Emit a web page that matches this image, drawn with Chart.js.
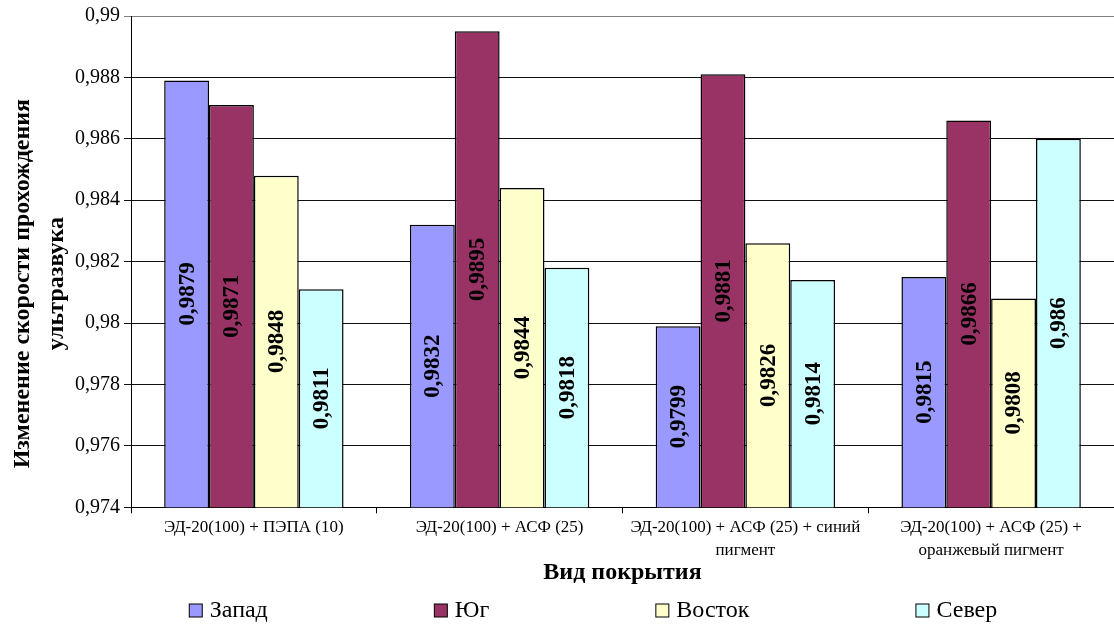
<!DOCTYPE html>
<html>
<head>
<meta charset="utf-8">
<script src="https://cdn.jsdelivr.net/npm/chart.js@4.4.1/dist/chart.umd.min.js"></script>
<style>
  html, body { margin: 0; padding: 0; background: #fff; }
  #wrap { width: 1114px; height: 626px; }
</style>
</head>
<body>
<div id="wrap"><canvas id="chart" width="1114" height="626"></canvas></div>
<script>
// Categories (coating types)
const categories = [
  'ЭД-20(100) + ПЭПА (10)',
  'ЭД-20(100) + АСФ (25)',
  ['ЭД-20(100) + АСФ (25) + синий', 'пигмент'],
  ['ЭД-20(100) + АСФ (25) +', 'оранжевый пигмент']
];

// Series values
const seriesNames = ['Запад', 'Юг', 'Восток', 'Север'];
const zapad  = [0.9879, 0.9832, 0.9799, 0.9815];
const yug    = [0.9871, 0.9895, 0.9881, 0.9866];
const vostok = [0.9848, 0.9844, 0.9826, 0.9808];
const sever  = [0.9811, 0.9818, 0.9814, 0.986];

// Value axis range
const yMin = 0.974;
const yMax = 0.99;
const yStep = 0.002;

const yTitleLines = ['Изменение скорости прохождения', 'ультразвука'];
const xTitle = 'Вид покрытия';

const colors = ['#9999FF', '#993366', '#FFFFCC', '#CCFFFF'];
const serif = '"Liberation Serif", "Times New Roman", serif';

const fmt = v => String(Math.round(v * 10000) / 10000).replace('.', ',');

// Values written vertically in the middle of the visible part of each bar
const barLabels = {
  id: 'barLabels',
  afterDatasetsDraw(chart) {
    const ctx = chart.ctx;
    const bottom = chart.scales.y.getPixelForValue(yMin);
    ctx.save();
    ctx.font = 'bold 23px ' + serif;
    ctx.fillStyle = '#000';
    ctx.textAlign = 'center';
    ctx.textBaseline = 'middle';
    chart.data.datasets.forEach((ds, i) => {
      const meta = chart.getDatasetMeta(i);
      meta.data.forEach((bar, j) => {
        const cy = (bar.y + bottom) / 2;
        ctx.save();
        ctx.translate(bar.x + 1, cy);
        ctx.rotate(-Math.PI / 2);
        ctx.fillText(fmt(ds.data[j]), 0, 0);
        ctx.restore();
      });
    });
    ctx.restore();
  }
};

// Two-line value axis title
const yTitle = {
  id: 'yTitle',
  afterDraw(chart) {
    const ctx = chart.ctx;
    const a = chart.chartArea;
    const cy = (a.top + a.bottom) / 2 + 22;
    ctx.save();
    ctx.font = 'bold 24px ' + serif;
    ctx.fillStyle = '#000';
    ctx.textAlign = 'center';
    ctx.textBaseline = 'middle';
    const xs = [23, 57];
    yTitleLines.forEach((t, k) => {
      ctx.save();
      ctx.translate(xs[k], cy);
      ctx.rotate(-Math.PI / 2);
      ctx.fillText(t, 0, 0);
      ctx.restore();
    });
    ctx.restore();
  }
};

// Legend row along the bottom
const bottomLegend = {
  id: 'bottomLegend',
  afterDraw(chart) {
    const ctx = chart.ctx;
    ctx.save();
    ctx.font = '24px ' + serif;
    ctx.textBaseline = 'middle';
    ctx.textAlign = 'left';
    const box = 13, gapBox = 8, gapItem = 166;
    const items = chart.data.datasets.map(ds => ({
      label: ds.label, color: ds.backgroundColor, w: ctx.measureText(ds.label).width
    }));
    const total = items.reduce((s, it) => s + box + gapBox + it.w, 0) + gapItem * (items.length - 1);
    let x = 593 - total / 2;
    const y = 610;
    items.forEach(it => {
      ctx.fillStyle = it.color;
      ctx.fillRect(x + 0.5, y - box / 2 + 0.5, box, box);
      ctx.strokeStyle = '#000';
      ctx.lineWidth = 1;
      ctx.strokeRect(x + 0.5, y - box / 2 + 0.5, box, box);
      ctx.fillStyle = '#000';
      ctx.fillText(it.label, x + box + gapBox, y + 1);
      x += box + gapBox + it.w + gapItem;
    });
    ctx.restore();
  }
};

const seriesData = [zapad, yug, vostok, sever];

new Chart(document.getElementById('chart'), {
  type: 'bar',
  data: {
    labels: categories,
    datasets: seriesNames.map((name, i) => ({
      label: name,
      data: seriesData[i],
      backgroundColor: colors[i],
      borderColor: '#000',
      borderWidth: 1.5,
      borderSkipped: false,
      categoryPercentage: 0.73,
      barPercentage: 1.0
    }))
  },
  options: {
    responsive: false,
    animation: false,
    devicePixelRatio: 1,
    layout: { padding: { left: 71, right: 0, top: 11, bottom: 39 } },
    plugins: {
      legend: { display: false },
      tooltip: { enabled: false }
    },
    scales: {
      x: {
        grid: {
          offset: true,
          drawOnChartArea: false,
          drawTicks: true,
          tickLength: 6,
          color: '#000'
        },
        border: { color: '#000', width: 1 },
        ticks: {
          color: '#000',
          font: { family: serif, size: 17, lineHeight: 1.35 },
          maxRotation: 0,
          autoSkip: false,
          padding: 3
        },
        title: {
          display: true,
          text: xTitle,
          color: '#000',
          font: { family: serif, size: 24, weight: 'bold' },
          padding: { top: -7, bottom: 0 }
        }
      },
      y: {
        min: yMin,
        max: yMax,
        grid: {
          color: ctx => (ctx.tick && Math.abs(ctx.tick.value - yMax) < 1e-9) ? '#808080' : '#111',
          lineWidth: 1,
          tickLength: 7,
          drawTicks: true
        },
        border: { color: '#000', width: 1 },
        ticks: {
          stepSize: yStep,
          color: '#000',
          padding: 4,
          font: { family: serif, size: 20 },
          callback: v => fmt(v)
        }
      }
    }
  },
  plugins: [barLabels, yTitle, bottomLegend]
});
</script>
</body>
</html>
